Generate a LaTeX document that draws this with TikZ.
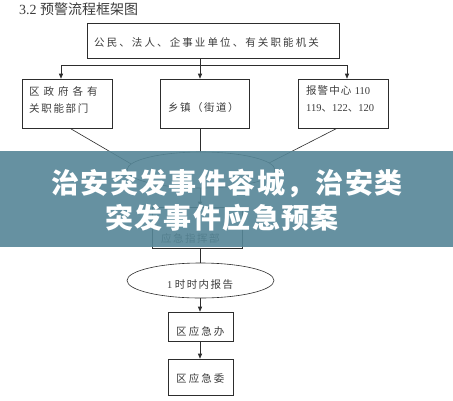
\documentclass[tikz,border=0pt]{standalone}
\usepackage{fontspec}
\setmainfont{Liberation Serif}
\newfontfamily\cjk{Noto Sans CJK SC}
\newfontfamily\cjkheavy{Noto Sans CJK SC Black}
\usetikzlibrary{shapes.geometric,arrows.meta}
\definecolor{ink}{RGB}{45,45,45}
\definecolor{txt}{RGB}{60,60,60}
\definecolor{banner}{RGB}{86,134,151}
\begin{document}
\begin{tikzpicture}[x=1pt,y=-1pt,
  box/.style={draw=ink,line width=0.6pt,inner sep=0pt},
  oval/.style={ellipse,draw=ink,line width=0.6pt,inner sep=0pt},
  lbl/.style={inner sep=0pt,text=txt,font=\fontsize{10.5}{13}\cjk},
  wire/.style={draw=ink,line width=0.6pt},
  arr/.style={wire,-{Triangle[length=5pt,width=4pt]}},
  bantext/.style={inner sep=0pt,text=white,font=\fontsize{28}{30}\cjkheavy}]
\useasboundingbox (0,0) rectangle (453,400);
\fill[white] (0,0) rectangle (453,400);
% title
\node[inner sep=0pt,anchor=west,text=txt,font=\fontsize{14}{16}\selectfont] (title) at (19,9) {3.2 {\cjk 预警流程框架图}};
% boxes
\node[box,minimum width=252pt,minimum height=35pt] (top) at (213,40.5) {};
\node[box,minimum width=90pt,minimum height=49pt] (lbox) at (67,103.5) {};
\node[box,minimum width=89pt,minimum height=49pt] (mbox) at (204.5,103.5) {};
\node[box,minimum width=90pt,minimum height=49pt] (rbox) at (343,103.5) {};
\node[oval,minimum width=148pt,minimum height=36pt] (ell1) at (201,170) {};
\node[box,minimum width=90pt,minimum height=41pt] (cmd) at (197,227.5) {};
\node[oval,minimum width=147pt,minimum height=35pt] (ell2) at (200.5,280.5) {};
\node[box,minimum width=65pt,minimum height=29pt] (office) at (200.5,326.5) {};
\node[box,minimum width=65pt,minimum height=36pt] (comm) at (200.5,377) {};
% labels
\node[lbl,anchor=west] (ttop) at (94,42) {\addfontfeature{LetterSpace=20}公民、法人、企事业单位、有关职能机关};
\node[lbl,anchor=west] (tl1) at (29,91) {\addfontfeature{LetterSpace=38}区政府各有};
\node[lbl,anchor=west] (tl2) at (29,108) {\addfontfeature{LetterSpace=16}关职能部门};
\node[lbl,anchor=west] (tm) at (168,108) {\addfontfeature{LetterSpace=14}乡镇（街道）};
\node[lbl,anchor=west] (tr1) at (306,91) {\addfontfeature{LetterSpace=10}报警中心 {\rmfamily 110}};
\node[lbl,anchor=west] (tr2) at (306,108) {\rmfamily 119{\cjk 、}122{\cjk 、}120};
\node[lbl,anchor=west] (tc2) at (161,238) {\addfontfeature{LetterSpace=14}应急指挥部};
\node[lbl,anchor=west] (te2) at (167,285) {{\rmfamily 1} \addfontfeature{LetterSpace=14}时时内报告};
\node[lbl,anchor=west] (to) at (176,331) {\addfontfeature{LetterSpace=20}区应急办};
\node[lbl,anchor=west] (tcm) at (176,378) {\addfontfeature{LetterSpace=20}区应急委};
% connectors
\coordinate (spine) at (200,0);
\coordinate (bus) at (200,65);
\coordinate (busl) at (61,65);
\coordinate (busr) at (347,65);
\draw[wire] (spine |- top.south) -- (bus);
\draw[wire] (busl) -- (busr);
\draw[arr] (busl) -- (busl |- lbox.north);
\draw[arr] (bus) -- (spine |- mbox.north);
\draw[arr] (busr) -- (busr |- rbox.north);
\draw[wire] (lbox.south) ++(3,0) coordinate (ls) -- (ell1.175);
\draw[wire] (rbox.south) ++(-6,0) coordinate (rs) -- (ell1.6);
\draw[wire] (spine |- mbox.south) -- (spine |- ell1.north);
\draw[arr] (spine |- ell1.south) -- (spine |- cmd.north);
\draw[wire] (spine |- cmd.south) -- (spine |- ell2.north);
\draw[arr] (spine |- ell2.south) -- (spine |- office.north);
\draw[arr] (spine |- office.south) -- (spine |- comm.north);
% banner
\fill[banner,fill opacity=0.9] (0,151) rectangle (453,247);
\node[bantext] (b1) at (227,183) {\addfontfeature{LetterSpace=5}治安突发事件容城，治安类};
\node[bantext] (b2) at (222,218) {\addfontfeature{LetterSpace=5}突发事件应急预案};
\end{tikzpicture}
\end{document}
